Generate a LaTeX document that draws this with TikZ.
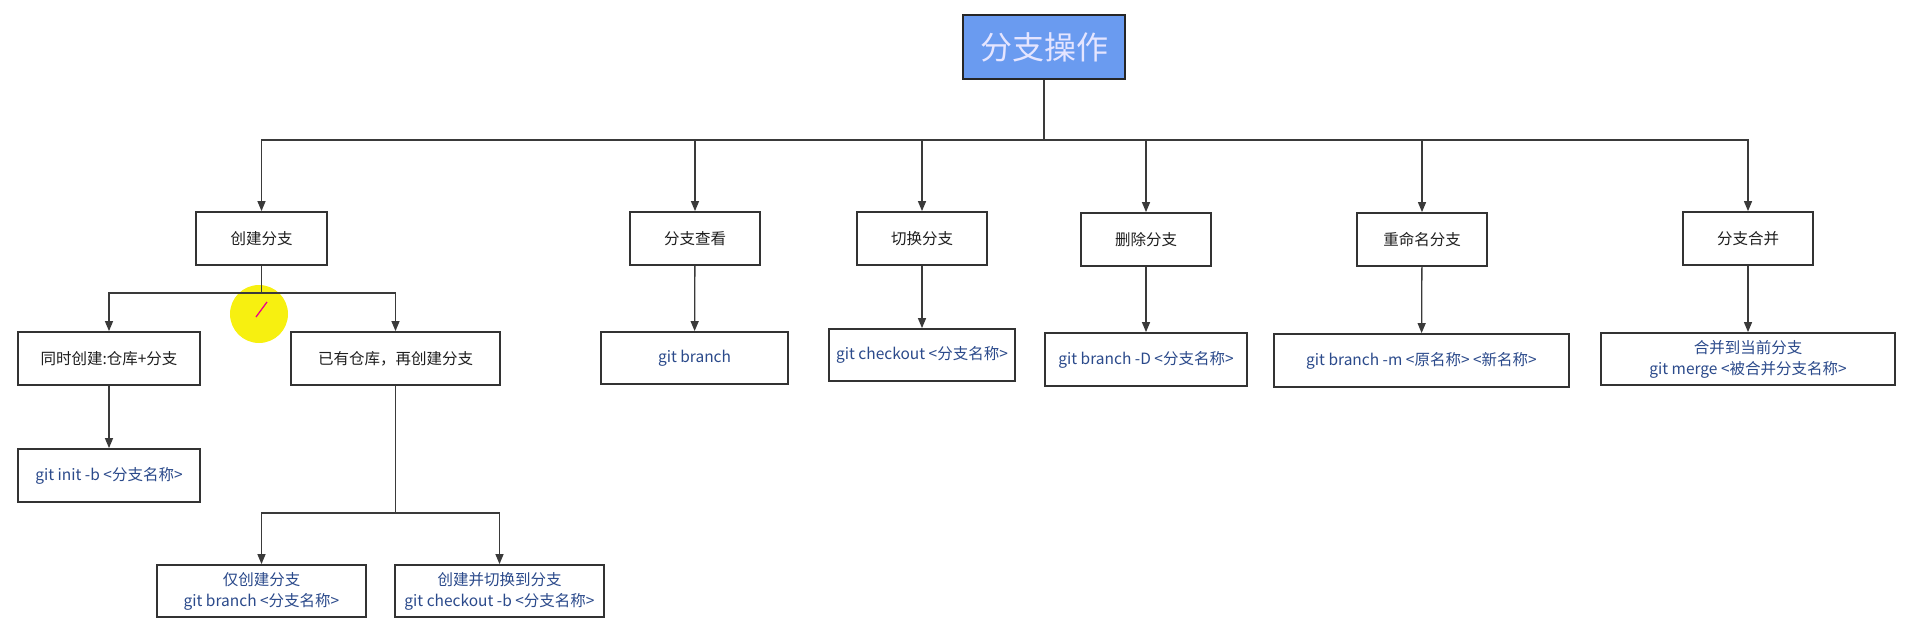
\documentclass[tikz,border=0pt]{standalone}
\usepackage{fontspec}
\newfontfamily\cjk{Noto Sans CJK SC}
\usetikzlibrary{arrows.meta}
\definecolor{rootblue}{HTML}{6A9BF0}
\definecolor{cmdblue}{HTML}{2B4A8B}
\definecolor{boxline}{HTML}{333333}
\definecolor{conn}{HTML}{3A3A3A}
\definecolor{hilite}{HTML}{F7F010}
\begin{document}
\begin{tikzpicture}[x=1pt,y=-1pt,
  box/.style={draw=boxline,line width=1.8pt,fill=white,inner sep=0pt,align=center,
    font=\cjk\fontsize{15.5}{21}\selectfont,text=black!88},
  cmd/.style={box,text=cmdblue},
  rootbox/.style={draw=black!85,line width=1.6pt,fill=rootblue,inner sep=0pt,
    font=\cjk\fontsize{32}{36}\selectfont,text=white!90!blue},
  link/.style={draw=conn,line width=1.3pt},
  arr/.style={link,-{Triangle[length=10pt,width=8pt]}}]
\useasboundingbox (0,0) rectangle (1911,624);
% cursor highlight
\fill[hilite] (259,314) ellipse (29 and 29);
\draw[magenta,line width=1.3pt] (267,302) -- (256,317);
% nodes
\node[rootbox,minimum width=162,minimum height=64] (root) at (1044,47) {分支操作};
\node[box,minimum width=131,minimum height=53] (create) at (261.5,238.5) {创建分支};
\node[box,minimum width=130,minimum height=53] (view) at (695,238.5) {分支查看};
\node[box,minimum width=130,minimum height=53] (switch) at (922,238.5) {切换分支};
\node[box,minimum width=130,minimum height=53] (del) at (1146,239.5) {删除分支};
\node[box,minimum width=130,minimum height=53] (rename) at (1422,239.5) {重命名分支};
\node[box,minimum width=130,minimum height=53] (merge) at (1748,238.5) {分支合并};
\node[cmd,minimum width=187,minimum height=52] (gbranch) at (694.5,358) {git branch};
\node[cmd,minimum width=186,minimum height=52] (gcheckout) at (922,355) {git checkout <分支名称>};
\node[cmd,minimum width=202,minimum height=53] (gdel) at (1146,359.5) {git branch -D <分支名称>};
\node[cmd,minimum width=295,minimum height=53] (grename) at (1421.5,360.5) {git branch -m <原名称> <新名称>};
\node[cmd,minimum width=294,minimum height=52] (gmerge) at (1748,359) {合并到当前分支\\git merge <被合并分支名称>};
\node[box,minimum width=182,minimum height=53] (both) at (109,358.5) {同时创建:仓库+分支};
\node[box,minimum width=209,minimum height=53] (existing) at (395.5,358.5) {已有仓库，再创建分支};
\node[cmd,minimum width=182,minimum height=53] (ginit) at (109,475.5) {git init -b <分支名称>};
\node[cmd,minimum width=209,minimum height=52] (gonly) at (261.5,591) {仅创建分支\\git branch <分支名称>};
\node[cmd,minimum width=209,minimum height=52] (gcs) at (499.5,591) {创建并切换到分支\\git checkout -b <分支名称>};
% connectors
\coordinate (bus) at (1044,140);
\draw[link,line width=1.8pt] (root) -- (bus);
\foreach \t in {create,view,switch,del,rename,merge}
  \draw[arr] (bus) -| (\t.north);
\foreach \a/\b in {view/gbranch,switch/gcheckout,del/gdel,rename/grename,merge/gmerge,both/ginit}
  \draw[arr] (\a) -- (\b);
\coordinate (bus2) at (261.5,293);
\draw[link] (create) -- (bus2);
\draw[arr] (bus2) -| (both.north);
\draw[arr] (bus2) -| (existing.north);
\coordinate (bus3) at (395.5,513);
\draw[link] (existing) -- (bus3);
\draw[arr] (bus3) -| (gonly.north);
\draw[arr] (bus3) -| (gcs.north);
\end{tikzpicture}
\end{document}
